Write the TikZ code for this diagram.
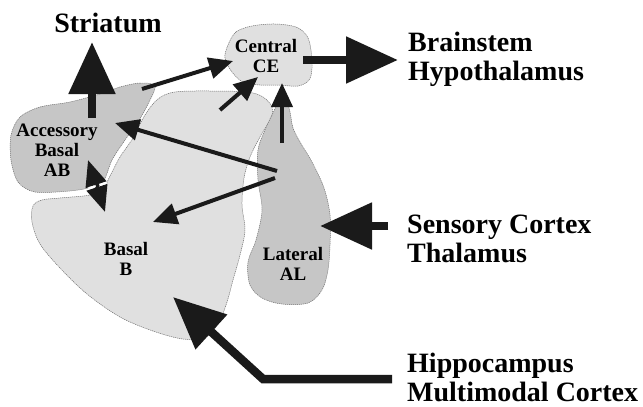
\documentclass[tikz,border=0pt]{standalone}
\usepackage{fontspec}
\setmainfont{Liberation Serif}
\usetikzlibrary{arrows.meta}
\definecolor{ink}{HTML}{1A1A1A}
\definecolor{lightfill}{HTML}{E0E0E0}
\definecolor{darkfill}{HTML}{C6C6C6}
\definecolor{rim}{HTML}{707070}
\tikzset{
  region/.style={draw=rim, line width=0.5pt, dash pattern=on 1.2pt off 0.8pt},
  biglabel/.style={inner sep=0pt, align=left, anchor=base west, font=\bfseries\fontsize{28}{28.5}\selectfont},
  smalllabel/.style={inner sep=0pt, align=center, anchor=base, font=\bfseries\fontsize{19}{20}\selectfont},
  thinarrow/.style={draw=ink, line width=4pt, -{Triangle[length=24pt,width=21pt]}},
  bigarrow/.style={draw=ink, line width=8.5pt, line join=miter, -{Triangle[length=52pt,width=45pt]}},
}
\begin{document}
\begin{tikzpicture}[x=1pt,y=-1pt]
\useasboundingbox (0,0) rectangle (643,407);
% Basal B
\fill[lightfill] plot[smooth cycle, tension=0.55] coordinates {(33,206) (42,200) (60,198) (90,195) (103,189) (110,176) (120,157) (133,138) (145,115) (158,99) (175,92) (210,91) (247,92) (263,97) (272,107) (271,118) (261,135) (250,157) (244,178) (242,205) (245,230) (240,255) (233,280) (227,302) (219,322) (206,337) (183,339) (153,331) (120,317) (87,294) (60,268) (40,244) (32,222)};
\draw[region] plot[smooth cycle, tension=0.55] coordinates {(33,206) (42,200) (60,198) (90,195) (103,189) (110,176) (120,157) (133,138) (145,115) (158,99) (175,92) (210,91) (247,92) (263,97) (272,107) (271,118) (261,135) (250,157) (244,178) (242,205) (245,230) (240,255) (233,280) (227,302) (219,322) (206,337) (183,339) (153,331) (120,317) (87,294) (60,268) (40,244) (32,222)};
% Accessory Basal AB
\filldraw[region, fill=darkfill] plot[smooth cycle, tension=0.5] coordinates {(155,86) (140,83) (120,87) (100,94) (70,102) (40,107) (20,117) (11,135) (11,160) (18,182) (35,192) (70,191) (92,187) (104,180) (112,160) (125,140) (138,122) (148,104)};
% Lateral AL
\filldraw[region, fill=darkfill] plot[smooth cycle, tension=0.55] coordinates {(278,104) (286,100) (290,112) (293,128) (300,142) (312,162) (324,188) (330,215) (330,245) (328,270) (322,290) (308,303) (282,304) (262,298) (250,285) (248,262) (256,240) (262,210) (258,180) (258,150) (265,130) (272,115)};
% Central CE
\filldraw[region, fill=lightfill] plot[smooth cycle, tension=0.55] coordinates {(228,45) (236,32) (252,26) (275,24) (296,27) (307,36) (311,50) (312,68) (309,80) (298,86) (278,85) (260,85) (243,82) (232,72) (225,58)};

% labels
\node[smalllabel] (ce) at (266,72) {Central\\CE};
\node[smalllabel] (ab) at (57,176) {Accessory\\Basal\\AB};
\node[smalllabel] (b) at (126,275) {Basal\\B};
\node[smalllabel] (al) at (293,280) {Lateral\\AL};
\node[inner sep=0pt, anchor=base, font=\bfseries\fontsize{28}{28.5}\selectfont] (str) at (108,32) {Striatum};
\node[biglabel] (brn) at (408,80) {Brainstem\\Hypothalamus};
\node[biglabel] (sns) at (407,262) {Sensory Cortex\\Thalamus};
\node[biglabel] (hip) at (407,401) {Hippocampus\\Multimodal Cortex};

% arrow end points
\coordinate (abOut) at (142,89);
\coordinate (ceInL) at (233,61);
\coordinate (bOut) at (220,110);
\coordinate (ceInB) at (258,77);
\coordinate (alOut) at (282,143);
\coordinate (ceInA) at (282,83);
\coordinate (alSrcA) at (277,171);
\coordinate (abIn) at (115,123);
\coordinate (alSrcB) at (275,178);
\coordinate (bIn) at (153,222);
\coordinate (dblTop) at (88,160);
\coordinate (dblBot) at (105,212);
\coordinate (strBase) at (92,118);
\coordinate (strTip) at (92,42);
\coordinate (brnBase) at (303,60);
\coordinate (brnTip) at (398,60);
\coordinate (snsBase) at (388,226);
\coordinate (snsTip) at (320,226);
\coordinate (hipBase) at (392,379);
\coordinate (hipBend) at (263,379);
\coordinate (hipTip) at (173,297);

% thin arrows
\draw[thinarrow] (abOut) -- (ceInL);
\draw[thinarrow] (bOut) -- (ceInB);
\draw[thinarrow] (alOut) -- (ceInA);
\draw[thinarrow] (alSrcA) -- (abIn);
\draw[thinarrow] (alSrcB) -- (bIn);
\draw[draw=ink, line width=4pt, {Triangle[length=26pt,width=21pt]}-{Triangle[length=26pt,width=21pt]}] (dblTop) -- (dblBot);
\draw[white, line width=2pt, line cap=round] (89,188) -- (106,183);
\fill[ink] (97.5,185.5) circle (2pt);

% big arrows
\draw[bigarrow] (strBase) -- (strTip);
\draw[bigarrow] (brnBase) -- (brnTip);
\draw[bigarrow] (snsBase) -- (snsTip);
\draw[bigarrow] (hipBase) -- (hipBend) -- (hipTip);
\end{tikzpicture}
\end{document}
